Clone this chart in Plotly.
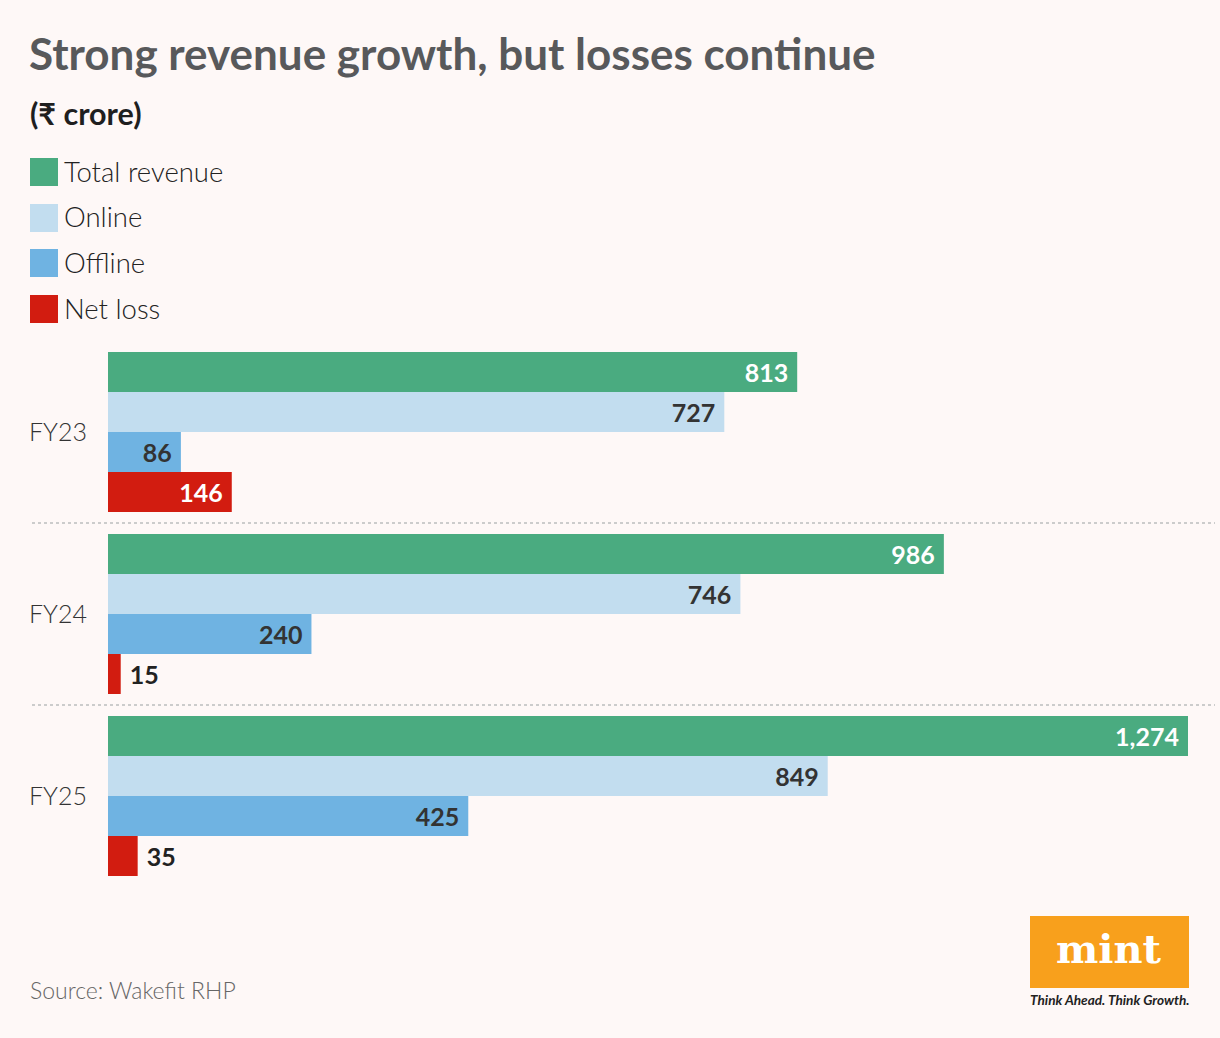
import plotly.graph_objects as go

years = ["FY23", "FY24", "FY25"]
series_names = ["Total revenue", "Online", "Offline", "Net loss"]
total_revenue = [813, 986, 1274]
online = [727, 746, 849]
offline = [86, 240, 425]
net_loss = [146, 15, 35]

series_values = [total_revenue, online, offline, net_loss]
colors = ["#4aab80", "#c2ddef", "#6fb3e2", "#d21c10"]
inside_text_colors = ["#ffffff", "#333333", "#333333", "#ffffff"]
BG = "#fef8f7"
FONT = "Lato"
NB = "\u00a0"

fig = go.Figure()
for name, vals, col, tcol in zip(series_names, series_values, colors, inside_text_colors):
    positions = ["inside" if v >= 50 else "outside" for v in vals]
    texts = [(f"{v:,}" + NB) if v >= 50 else (NB + f"{v:,}") for v in vals]
    tcolors = [tcol if v >= 50 else "#222222" for v in vals]
    fig.add_trace(go.Bar(
        y=years, x=vals, name=name, orientation="h",
        marker=dict(color=col, line=dict(width=0)),
        text=texts, textposition=positions, insidetextanchor="end",
        textfont=dict(family=FONT, size=25, color=tcolors, weight="bold"),
        cliponaxis=False, showlegend=False, hoverinfo="x+y+name",
    ))

def py(ypix):
    return (887 - ypix) / 546

def px(xpix):
    return (xpix - 108) / 1080

# Legend drawn as squares + labels
legend_y = [172, 218, 263, 309]
for name, col, yy in zip(series_names, colors, legend_y):
    fig.add_shape(type="rect", xref="paper", yref="paper",
                  x0=px(30), x1=px(58), y0=py(yy + 14), y1=py(yy - 14),
                  fillcolor=col, line=dict(width=0), layer="above")
    fig.add_annotation(xref="paper", yref="paper", x=px(62), y=py(yy - 1),
                       text=name, showarrow=False, xanchor="left", yanchor="middle",
                       font=dict(family=FONT, size=27.5, color="#222222", weight=300))

# Dotted separators between groups
for yv in [0.5, 1.5]:
    fig.add_shape(type="line", xref="paper", yref="y",
                  x0=px(32), x1=px(1215), y0=yv, y1=yv,
                  line=dict(color="#cccccc", width=2, dash="dot"))

# Title / subtitle / source
fig.add_annotation(xref="paper", yref="paper", x=px(27), y=py(53),
                   text="<b>Strong revenue growth, but losses continue</b>", showarrow=False,
                   xanchor="left", yanchor="middle",
                   font=dict(family=FONT, size=44, color="#58595b"))
fig.add_annotation(xref="paper", yref="paper", x=px(28), y=py(113),
                   text="<b>(₹ crore)</b>", showarrow=False, xanchor="left", yanchor="middle",
                   font=dict(family=FONT, size=30.5, color="#1f1f1f"))
fig.add_annotation(xref="paper", yref="paper", x=px(28), y=py(990),
                   text="Source: Wakefit RHP", showarrow=False, xanchor="left", yanchor="middle",
                   font=dict(family=FONT, size=23, color="#666666", weight=300))

# mint logo
fig.add_shape(type="rect", xref="paper", yref="paper",
              x0=px(1030), x1=px(1189), y0=py(988), y1=py(916),
              fillcolor="#f8a01c", line=dict(width=0))
fig.add_annotation(xref="paper", yref="paper", x=px(1109), y=py(948),
                   text="<b>mint</b>", showarrow=False, xanchor="center", yanchor="middle",
                   font=dict(family="DejaVu Serif", size=40, color="#ffffff"))
fig.add_annotation(xref="paper", yref="paper", x=px(1110), y=py(1000),
                   text="<b><i>Think Ahead. Think Growth.</i></b>", showarrow=False,
                   xanchor="center", yanchor="middle",
                   font=dict(family=FONT, size=13.6, color="#222222"))

fig.update_layout(
    width=1220, height=1038,
    margin=dict(l=108, r=32, t=341, b=151, pad=0),
    paper_bgcolor=BG, plot_bgcolor=BG,
    barmode="group", bargap=0.121, bargroupgap=0,
    uniformtext=dict(minsize=25, mode="show"),
    xaxis=dict(range=[0, 1274], visible=False, fixedrange=True),
    yaxis=dict(autorange="reversed", showgrid=False, zeroline=False, showline=False,
               ticks="", ticklabelstandoff=20,
               tickfont=dict(family=FONT, size=25, color="#333333", weight=300)),
    font=dict(family=FONT),
)

fig.write_html("out.html")
